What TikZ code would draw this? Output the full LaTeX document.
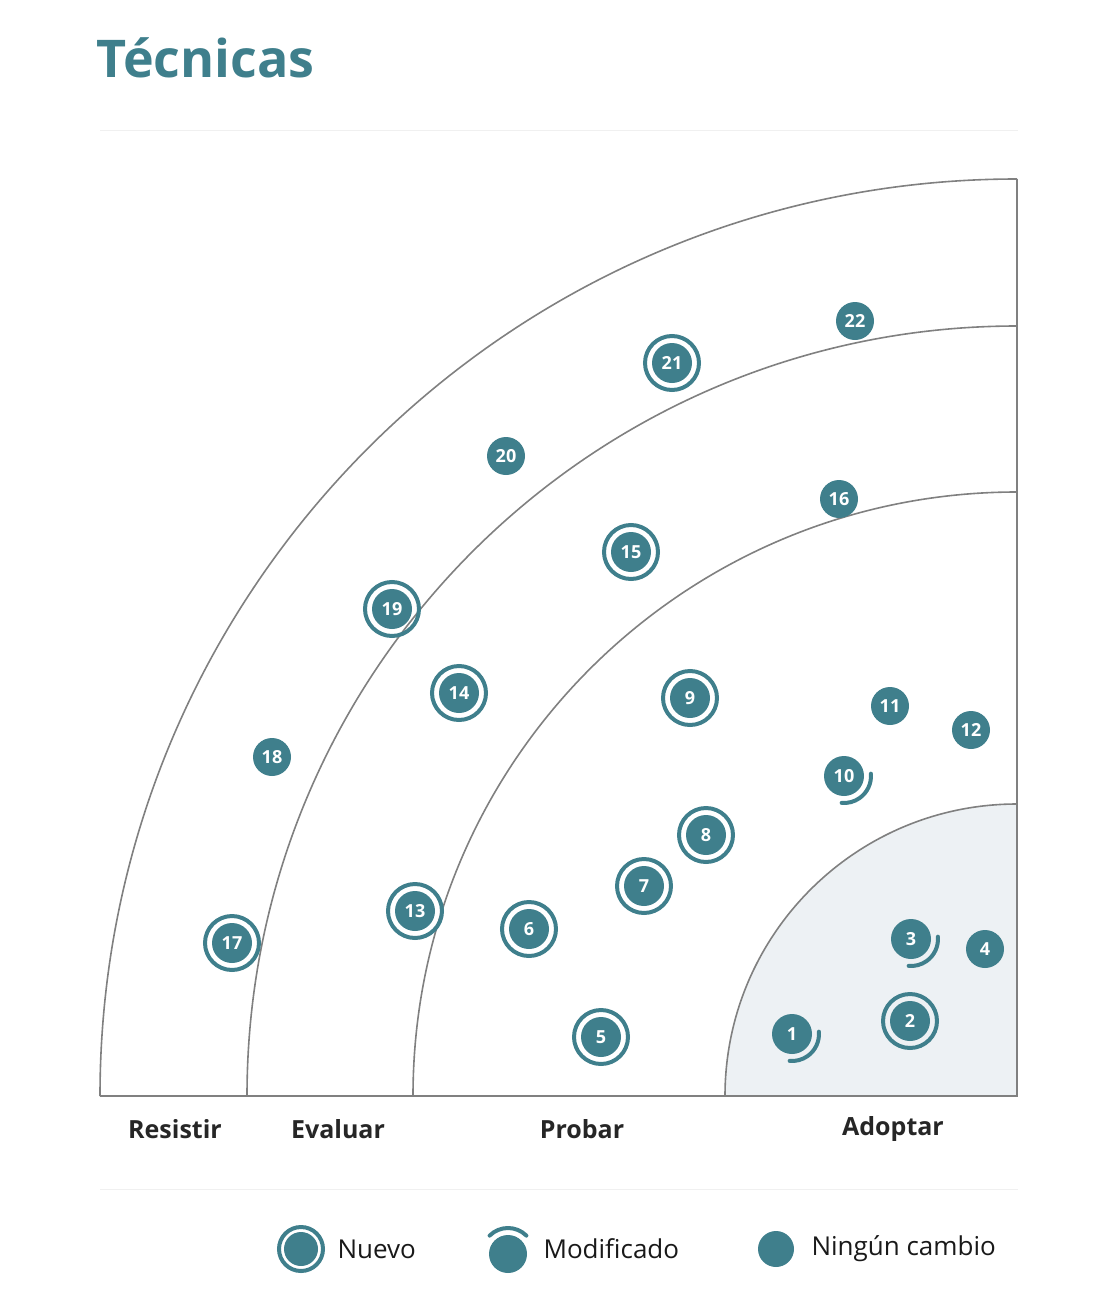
\documentclass[tikz,border=0pt]{standalone}
\usepackage{fontspec}
\setmainfont{Open Sans}
\definecolor{teal}{HTML}{3F7F8C}
\definecolor{ringgray}{HTML}{808080}
\definecolor{adoptfill}{HTML}{EDF1F4}
\begin{document}
\begin{tikzpicture}
	[x=1pt, y=-1pt,
	blip/.style={circle,fill=teal,inner sep=0pt,minimum size=39pt,text=white,font=\fontsize{18}{18}\selectfont\bfseries},
	newring/.style={draw=teal,line width=4pt},
	modarc/.style={draw=teal,line width=4pt,line cap=round},
	ringlabel/.style={font=\fontsize{25}{25}\selectfont\bfseries,text=black!85},
	legendtext/.style={font=\fontsize{26}{26}\selectfont,anchor=west,text=black!90}]
	\useasboundingbox (0,0) rectangle (1112,1306);
	\node (title) [anchor=west,text=teal,font=\fontsize{52}{52}\selectfont\bfseries] at (93,58) {Técnicas};
	\draw [black!6] (100,130) -- (1018,130);
	\draw [black!6] (100,1189) -- (1018,1189);
	% rings
	\coordinate (c) at (1017,1096);
	\fill [adoptfill] (c) -- (725,1096) arc [start angle=180,end angle=270,radius=292] -- cycle;
	\foreach \r in {292,604,770,917}
		\draw [ringgray,line width=1.6pt] (1017-\r,1096) arc [start angle=180,end angle=270,radius=\r];
	\draw [ringgray,line width=1.6pt] (100,1096) -- (1017,1096) -- (1017,179);
	\node (hold) [ringlabel] at (175,1129) {Resistir};
	\node (assess) [ringlabel] at (338,1129) {Evaluar};
	\node (trial) [ringlabel] at (582,1129) {Probar};
	\node (adopt) [ringlabel] at (893,1129) {Adoptar};
	% blips: x/y/number/type (n new, m modified, s same)
	\foreach \x/\y/\n/\t in {792/1034/1/m, 910/1021/2/n, 911/939/3/m, 985/949/4/s,
		601/1037/5/n, 529/929/6/n, 644/886/7/n, 706/835/8/n, 690/698/9/n,
		844/776/10/m, 890/706/11/s, 971/730/12/s, 415/911/13/n, 459/693/14/n,
		631/552/15/n, 839/499/16/s, 232/943/17/n, 272/757/18/s, 392/609/19/n,
		506/456/20/s, 672/363/21/n, 855/321/22/s} {
		\if\t n \draw [newring] (\x,\y) circle [radius=27]; \fi
		\if\t m \draw [modarc] (\x,\y) ++(-5:27) arc [start angle=-5,end angle=95,radius=27]; \fi
		\node (b\n) [blip, minimum size=\if\t s 38pt\else 40pt\fi] at (\x,\y) {\n};
	}
	% legend
	\draw [newring] (301,1249) circle [radius=22];
	\node (lnew) [circle,fill=teal,minimum size=34pt,inner sep=0pt] at (301,1249) {};
	\node (lnewtext) [legendtext] at (334,1249) {Nuevo};
	\draw [modarc] (508,1254) ++(225:26) arc [start angle=225,end angle=315,radius=26];
	\node (lmod) [circle,fill=teal,minimum size=38pt,inner sep=0pt] at (508,1254) {};
	\node (lmodtext) [legendtext] at (540,1249) {Modificado};
	\node (lsame) [circle,fill=teal,minimum size=36pt,inner sep=0pt] at (776,1249) {};
	\node (lsametext) [legendtext] at (808,1249) {Ningún cambio};
\end{tikzpicture}
\end{document}
